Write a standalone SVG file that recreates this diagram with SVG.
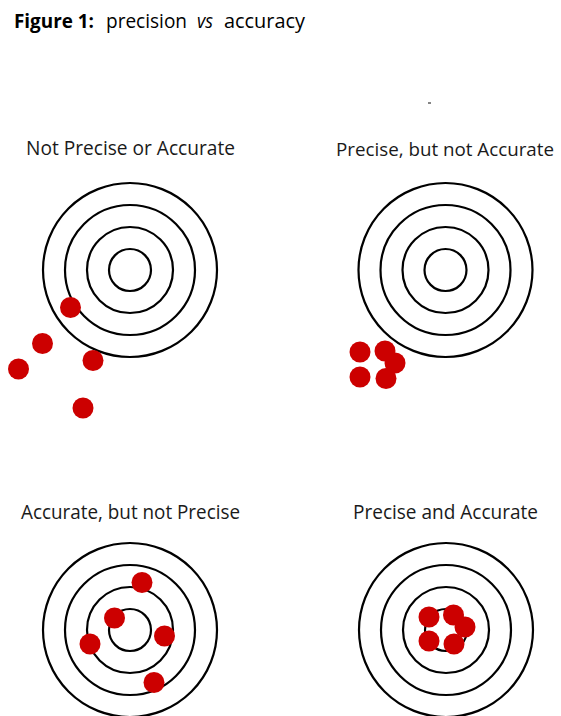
<svg xmlns="http://www.w3.org/2000/svg" width="561" height="716" viewBox="0 0 561 716">
<style>
.ring{fill:none;stroke:#000;stroke-width:2.2}
.dot{fill:#cc0000}
.lbl{font-family:"Open Sans","Liberation Sans",sans-serif;font-size:20px;fill:#1a1a1a;text-anchor:middle}
.ttl{font-family:"Open Sans","Liberation Sans",sans-serif;font-size:19.5px;fill:#000}
</style>
<defs>
<g id="target">
<circle class="ring" r="87"/>
<circle class="ring" r="65"/>
<circle class="ring" r="43"/>
<circle class="ring" r="21"/>
</g>
</defs>
<rect width="561" height="716" fill="#fff"/>
<g id="title">
<text class="ttl" x="14" y="27.5" font-weight="bold" textLength="80" lengthAdjust="spacingAndGlyphs">Figure 1:</text>
<text class="ttl" x="106" y="27.5" textLength="81" lengthAdjust="spacingAndGlyphs">precision</text>
<text class="ttl" x="197" y="27.5" font-style="italic" textLength="16" lengthAdjust="spacingAndGlyphs">vs</text>
<text class="ttl" x="224" y="27.5" textLength="81" lengthAdjust="spacingAndGlyphs">accuracy</text>
</g>
<line x1="428" y1="103" x2="431" y2="103" stroke="#333" stroke-width="1.2"/>
<g id="not-precise-or-accurate">
<text class="lbl" x="130.5" y="155" textLength="209" lengthAdjust="spacingAndGlyphs">Not Precise or Accurate</text>
<use href="#target" x="130" y="270"/>
<circle class="dot" cx="70.5" cy="307.5" r="10.5"/>
<circle class="dot" cx="42.5" cy="343.5" r="10.5"/>
<circle class="dot" cx="18.5" cy="369" r="10.5"/>
<circle class="dot" cx="93" cy="360.5" r="10.5"/>
<circle class="dot" cx="83" cy="408" r="10.5"/>
</g>
<g id="precise-not-accurate">
<text class="lbl" x="445" y="156" font-size="18.5" style="font-size:18.5px" textLength="218" lengthAdjust="spacingAndGlyphs">Precise, but not Accurate</text>
<use href="#target" x="445.5" y="270"/>
<circle class="dot" cx="395" cy="363" r="10.5"/>
<circle class="dot" cx="360" cy="352" r="10.5"/>
<circle class="dot" cx="385" cy="351" r="10.5"/>
<circle class="dot" cx="360" cy="377" r="10.5"/>
<circle class="dot" cx="386" cy="378.5" r="10.5"/>
</g>
<g id="accurate-not-precise">
<text class="lbl" x="130.5" y="519" textLength="219" lengthAdjust="spacingAndGlyphs">Accurate, but not Precise</text>
<use href="#target" x="130" y="630"/>
<circle class="dot" cx="142" cy="582.5" r="10.5"/>
<circle class="dot" cx="114.5" cy="618" r="10.5"/>
<circle class="dot" cx="164.5" cy="636" r="10.5"/>
<circle class="dot" cx="90" cy="644" r="10.5"/>
<circle class="dot" cx="154" cy="682.5" r="10.5"/>
</g>
<g id="precise-and-accurate">
<text class="lbl" x="445.5" y="519" textLength="185" lengthAdjust="spacingAndGlyphs">Precise and Accurate</text>
<use href="#target" x="446" y="630"/>
<circle class="dot" cx="465" cy="627" r="10.5"/>
<circle class="dot" cx="429" cy="617" r="10.5"/>
<circle class="dot" cx="453.5" cy="615" r="10.5"/>
<circle class="dot" cx="429" cy="641" r="10.5"/>
<circle class="dot" cx="454" cy="644" r="10.5"/>
</g>
</svg>
